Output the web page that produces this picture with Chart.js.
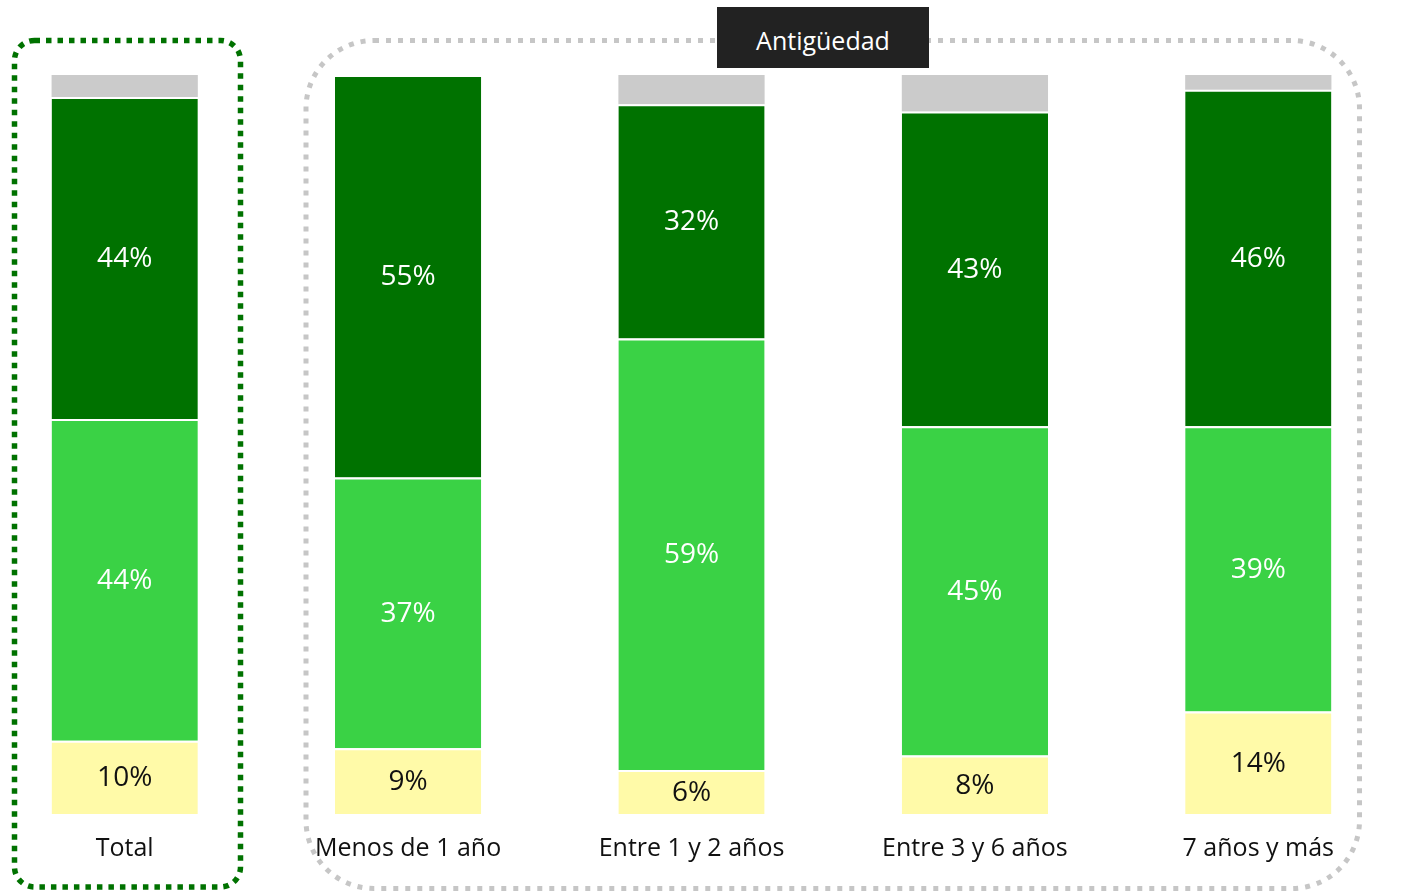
<!DOCTYPE html>
<html>
<head>
<meta charset="utf-8">
<script src="https://cdn.jsdelivr.net/npm/chart.js@4.4.1/dist/chart.umd.min.js"></script>
<style>
  html, body { margin: 0; padding: 0; background: #fff; width: 1408px; height: 893px; overflow: hidden; }
  #wrap { position: absolute; left: -17px; top: 0; width: 1417px; height: 893px; }
  #title {
    position: absolute; left: 717px; top: 7px; width: 212px; height: 61px;
    background: #222; color: #fff; font: 25px "Open Sans", sans-serif;
    display: flex; align-items: center; justify-content: center;
    box-sizing: border-box; padding-top: 4px;
  }
</style>
</head>
<body>
<div id="wrap"><canvas id="c"></canvas></div>
<div id="title">Antigüedad</div>
<script>
// Categories: overall total plus seniority groups
const categories = ['Total', 'Menos de 1 año', 'Entre 1 y 2 años', 'Entre 3 y 6 años', '7 años y más'];
// Stacked shares (%) from bottom to top
const bajo  = [10, 9, 6, 8, 14];
const medio = [44, 37, 59, 45, 39];
const alto  = [44, 55, 32, 43, 46];
const nsnc  = [3, 0, 4, 5, 2];

const colors = { bajo: '#FFFAA8', medio: '#3AD245', alto: '#007200', nsnc: '#CBCBCB' };
const labelColors = ['#111', '#fff', '#fff', null];
const FONT = '"Open Sans", sans-serif';

// Dotted rounded frames (canvas coordinates)
const framePlugin = {
  id: 'frames',
  beforeDraw(chart) {
    const ctx = chart.ctx;
    ctx.save();
    ctx.lineCap = 'butt';
    // Total frame
    ctx.strokeStyle = '#007200';
    ctx.lineWidth = 5.5;
    ctx.setLineDash([5.5, 6]);
    ctx.beginPath();
    ctx.roundRect(31.5, 40.5, 226, 846.5, 20);
    ctx.stroke();
    // Seniority frame
    ctx.strokeStyle = '#C6C6C6';
    ctx.lineWidth = 5;
    ctx.setLineDash([5, 7]);
    ctx.beginPath();
    ctx.roundRect(323, 40.5, 1053.5, 848, 68);
    ctx.stroke();
    ctx.restore();
  }
};

// Percentage labels centred in each segment
const valueLabels = {
  id: 'valueLabels',
  afterDatasetsDraw(chart) {
    const ctx = chart.ctx;
    ctx.save();
    ctx.font = '28px ' + FONT;
    ctx.textAlign = 'center';
    ctx.textBaseline = 'middle';
    chart.data.datasets.forEach((ds, i) => {
      if (!labelColors[i]) return;
      const meta = chart.getDatasetMeta(i);
      ctx.fillStyle = labelColors[i];
      meta.data.forEach((bar, j) => {
        const v = ds.data[j];
        if (!v) return;
        ctx.fillText(v + '%', bar.x, (bar.y + bar.base) / 2 + 1);
      });
    });
    ctx.restore();
  }
};

const seg = (label, data, color, top) => ({
  label, data, backgroundColor: color,
  borderColor: '#fff',
  borderWidth: { top: top, right: 0, bottom: 0, left: 0 },
  borderSkipped: false,
  categoryPercentage: 1,
  barPercentage: 0.516
});

new Chart(document.getElementById('c'), {
  type: 'bar',
  data: {
    labels: categories,
    datasets: [
      seg('Bajo', bajo, colors.bajo, 2),
      seg('Medio', medio, colors.medio, 2),
      seg('Alto', alto, colors.alto, 2),
      seg('NS/NC', nsnc, colors.nsnc, 0)
    ]
  },
  options: {
    responsive: true,
    maintainAspectRatio: false,
    animation: false,
    layout: { padding: { top: 75, bottom: 9, left: 0, right: 0 } },
    plugins: { legend: { display: false }, tooltip: { enabled: false } },
    scales: {
      x: {
        stacked: true,
        grid: { display: false, drawTicks: false },
        border: { display: false },
        ticks: {
          color: '#111', padding: 20, maxRotation: 0, autoSkip: false,
          font: { family: FONT, size: 25 }
        }
      },
      y: { stacked: true, display: false, min: 0, max: 101 }
    }
  },
  plugins: [framePlugin, valueLabels]
});
</script>
</body>
</html>
